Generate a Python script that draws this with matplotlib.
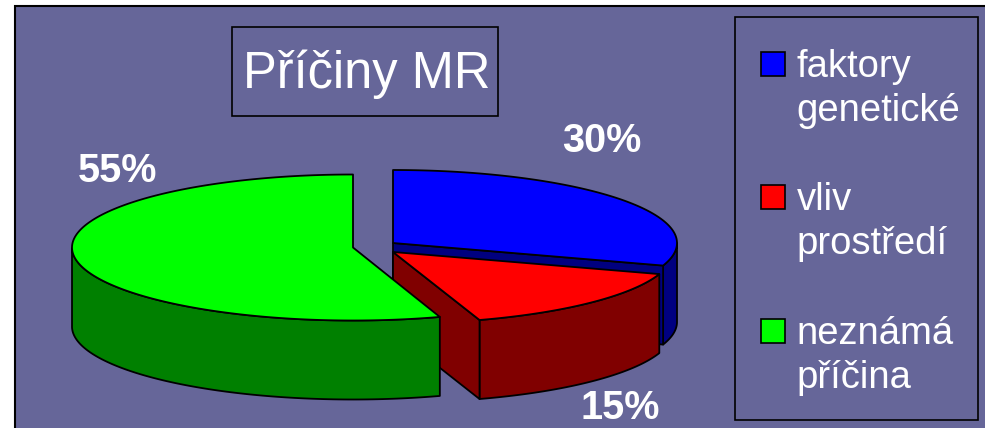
import numpy as np
import matplotlib
matplotlib.use("Agg")
import matplotlib.pyplot as plt
from matplotlib.patches import Rectangle

plt.rcParams['font.family'] = ['Liberation Sans', 'DejaVu Sans']

# data
nazvy = ["faktory\ngenetické", "vliv\nprostředí", "neznámá\npříčina"]
hodnoty = [30, 15, 55]
popisky = ["30%", "15%", "55%"]
barvy = ["#0000ff", "#ff0000", "#00ff00"]
tmave = ["#000080", "#800000", "#008000"]

# kazdy dil ma svuj stred (exploze), polomery a hloubku v pixelech
stredy = [(393, 243), (393, 252), (353, 247.5)]
rx = [284, 280, 281]
ry = [73, 71.5, 73]
hloubka = 79
pozadi = "#666699"

fig = plt.figure(figsize=(9.85, 4.28), dpi=100, facecolor="white")
ax = fig.add_axes([0, 0, 1, 1])
ax.set_xlim(0, 985)
ax.set_ylim(428, 0)
ax.axis("off")

ax.add_patch(Rectangle((14.5, 6), 1000, 500, fc=pozadi, ec="black", lw=1.5))

kw = dict(ec="black", lw=1.3, joinstyle="round")


def bod(i, uhel):
    a = np.radians(uhel)
    return stredy[i][0] + rx[i] * np.cos(a), stredy[i][1] - ry[i] * np.sin(a)


# uhly dilu - start nahore, po smeru hodinovych rucicek
hranice = [90]
for h in hodnoty:
    hranice.append(hranice[-1] - h * 3.6)

for i in range(3):
    u1, u2 = hranice[i], hranice[i + 1]
    cx, cy = stredy[i]
    t = np.linspace(u1, u2, 200)
    x, y = bod(i, t)

    # vnejsi plast - jen predni cast elipsy
    vpredu = t[(t <= 0) & (t >= -180)]
    if i == 0:
        vpredu = np.linspace(0, u2, 40)
    if len(vpredu) > 0:
        px, py = bod(i, vpredu)
        ax.fill(np.r_[px, px[::-1]], np.r_[py, py[::-1] + hloubka], fc=tmave[i], **kw)

    # rezy
    if i < 2:
        kx, ky = bod(i, u2)
        ax.fill([cx, kx, kx, cx], [cy, ky, ky + hloubka, cy + hloubka], fc=tmave[i], **kw)

    # horni plocha
    ax.fill(np.r_[cx, x], np.r_[cy, y], fc=barvy[i], **kw)

# popisky procent
pozice = [(602, 141), (620, 408), (117, 171)]
for txt, (px, py) in zip(popisky, pozice):
    ax.text(px, py, txt, color="white", fontsize=28.5, fontweight="bold", ha="center", va="center")

# titulek
ax.add_patch(Rectangle((232, 27), 266, 89, fc=pozadi, ec="black", lw=1.2))
ax.text(366.5, 74, "Příčiny MR", color="white", fontsize=36.5, ha="center", va="center")

# legenda
ax.add_patch(Rectangle((735, 17), 243, 403, fc=pozadi, ec="black", lw=1.2))
ley = [52, 185, 319]
for nazev, barva, y0 in zip(nazvy, barvy, ley):
    ax.add_patch(Rectangle((761, y0), 24, 24, fc=barva, ec="black", lw=1.2))
    ax.text(796.5, y0 - 3, nazev, color="white", fontsize=27.5, ha="left", va="top", linespacing=1.27)

fig.savefig("out.png", dpi=100)
